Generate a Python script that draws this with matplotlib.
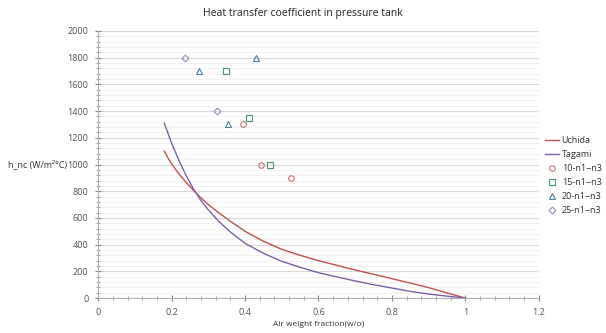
import matplotlib
matplotlib.use("Agg")
import matplotlib.pyplot as plt
from matplotlib.ticker import MultipleLocator

plt.rcParams['font.family'] = ['Open Sans', 'DejaVu Sans']

# Data
uchida_x = [0.18, 0.19, 0.20, 0.22, 0.24, 0.26, 0.28, 0.30, 0.33, 0.36, 0.40, 0.45, 0.50, 0.55,
            0.60, 0.65, 0.70, 0.75, 0.80, 0.85, 0.90, 0.95, 1.00]
uchida_y = [1100, 1050, 1005, 930, 865, 805, 750, 700, 635, 575, 500, 425, 365, 320,
            280, 245, 210, 178, 145, 112, 78, 38, 0]
tagami_x = [0.18, 0.19, 0.20, 0.22, 0.24, 0.26, 0.28, 0.30, 0.33, 0.36, 0.40, 0.45, 0.50, 0.55,
            0.60, 0.65, 0.70, 0.75, 0.80, 0.85, 0.90, 0.95, 1.00]
tagami_y = [1310, 1235, 1160, 1030, 915, 815, 730, 660, 570, 495, 410, 335, 275, 230,
            190, 158, 128, 100, 75, 50, 30, 14, 0]

s10_x = [0.394, 0.443, 0.525]
s10_y = [1300, 1000, 900]
s15_x = [0.347, 0.412, 0.469]
s15_y = [1700, 1350, 1000]
s20_x = [0.429, 0.274, 0.353]
s20_y = [1800, 1700, 1300]
s25_x = [0.237, 0.324]
s25_y = [1800, 1400]

x_ticks = [0, 0.2, 0.4, 0.6, 0.8, 1, 1.2]
x_tick_labels = ["0", "0.2", "0.4", "0.6", "0.8", "1", "1.2"]
y_ticks = list(range(0, 2001, 200))

fig = plt.figure(figsize=(6.06, 3.33), dpi=100)
ax = fig.add_axes([0.162, 0.105, 0.727, 0.802])

ax.plot(uchida_x, uchida_y, color="#C0504D", lw=1.0, label="Uchida")
ax.plot(tagami_x, tagami_y, color="#7B5FA8", lw=1.0, label="Tagami")
ax.plot(s10_x, s10_y, ls="none", marker="o", ms=4, mfc="none", mec="#D07070", mew=0.8, label="10-n1~n3")
ax.plot(s15_x, s15_y, ls="none", marker="s", ms=4, mfc="none", mec="#3E9A6A", mew=0.8, label="15-n1~n3")
ax.plot(s20_x, s20_y, ls="none", marker="^", ms=4.5, mfc="none", mec="#4A7FA0", mew=0.8, label="20-n1~n3")
ax.plot(s25_x, s25_y, ls="none", marker="D", ms=3.5, mfc="none", mec="#9A8CB8", mew=0.8, label="25-n1~n3")

ax.set_xlim(0, 1.2)
ax.set_ylim(0, 2000)
ax.set_xticks(x_ticks)
ax.set_xticklabels(x_tick_labels)
ax.set_yticks(y_ticks)
ax.xaxis.set_minor_locator(MultipleLocator(0.04))
ax.yaxis.set_minor_locator(MultipleLocator(40))

ax.grid(True, which="major", axis="y", color="#DADADA", lw=0.8)
ax.grid(True, which="minor", axis="y", color="#F0F0F0", lw=0.6)
ax.set_axisbelow(True)

for s in ["top", "right"]:
    ax.spines[s].set_visible(False)
for s in ["left", "bottom"]:
    ax.spines[s].set_color("#B0B0B0")
    ax.spines[s].set_linewidth(0.8)

ax.tick_params(axis="both", which="major", direction="inout", length=4, color="#808080",
               labelsize=6.5, labelcolor="#505050", pad=5)
ax.tick_params(axis="both", which="minor", direction="inout", length=3, color="#909090")

fig.text(0.5, 0.958, "Heat transfer coefficient in pressure tank", ha="center", va="center",
         fontsize=7.5, color="#202020")
ax.set_xlabel("Air weight fraction(w/o)", fontsize=6, color="#303030", labelpad=3)
fig.text(0.013, 0.507, "h_nc (W/m\u00b2\u00b0C)", ha="left", va="center", fontsize=6.5, color="#303030")

leg = ax.legend(loc="upper left", bbox_to_anchor=(1.005, 0.62), frameon=False, fontsize=6.5,
                handlelength=1.6, handletextpad=0.3, labelspacing=0.55, borderaxespad=0)
for t in leg.get_texts():
    t.set_color("#303030")

fig.savefig("out.png", dpi=100)
